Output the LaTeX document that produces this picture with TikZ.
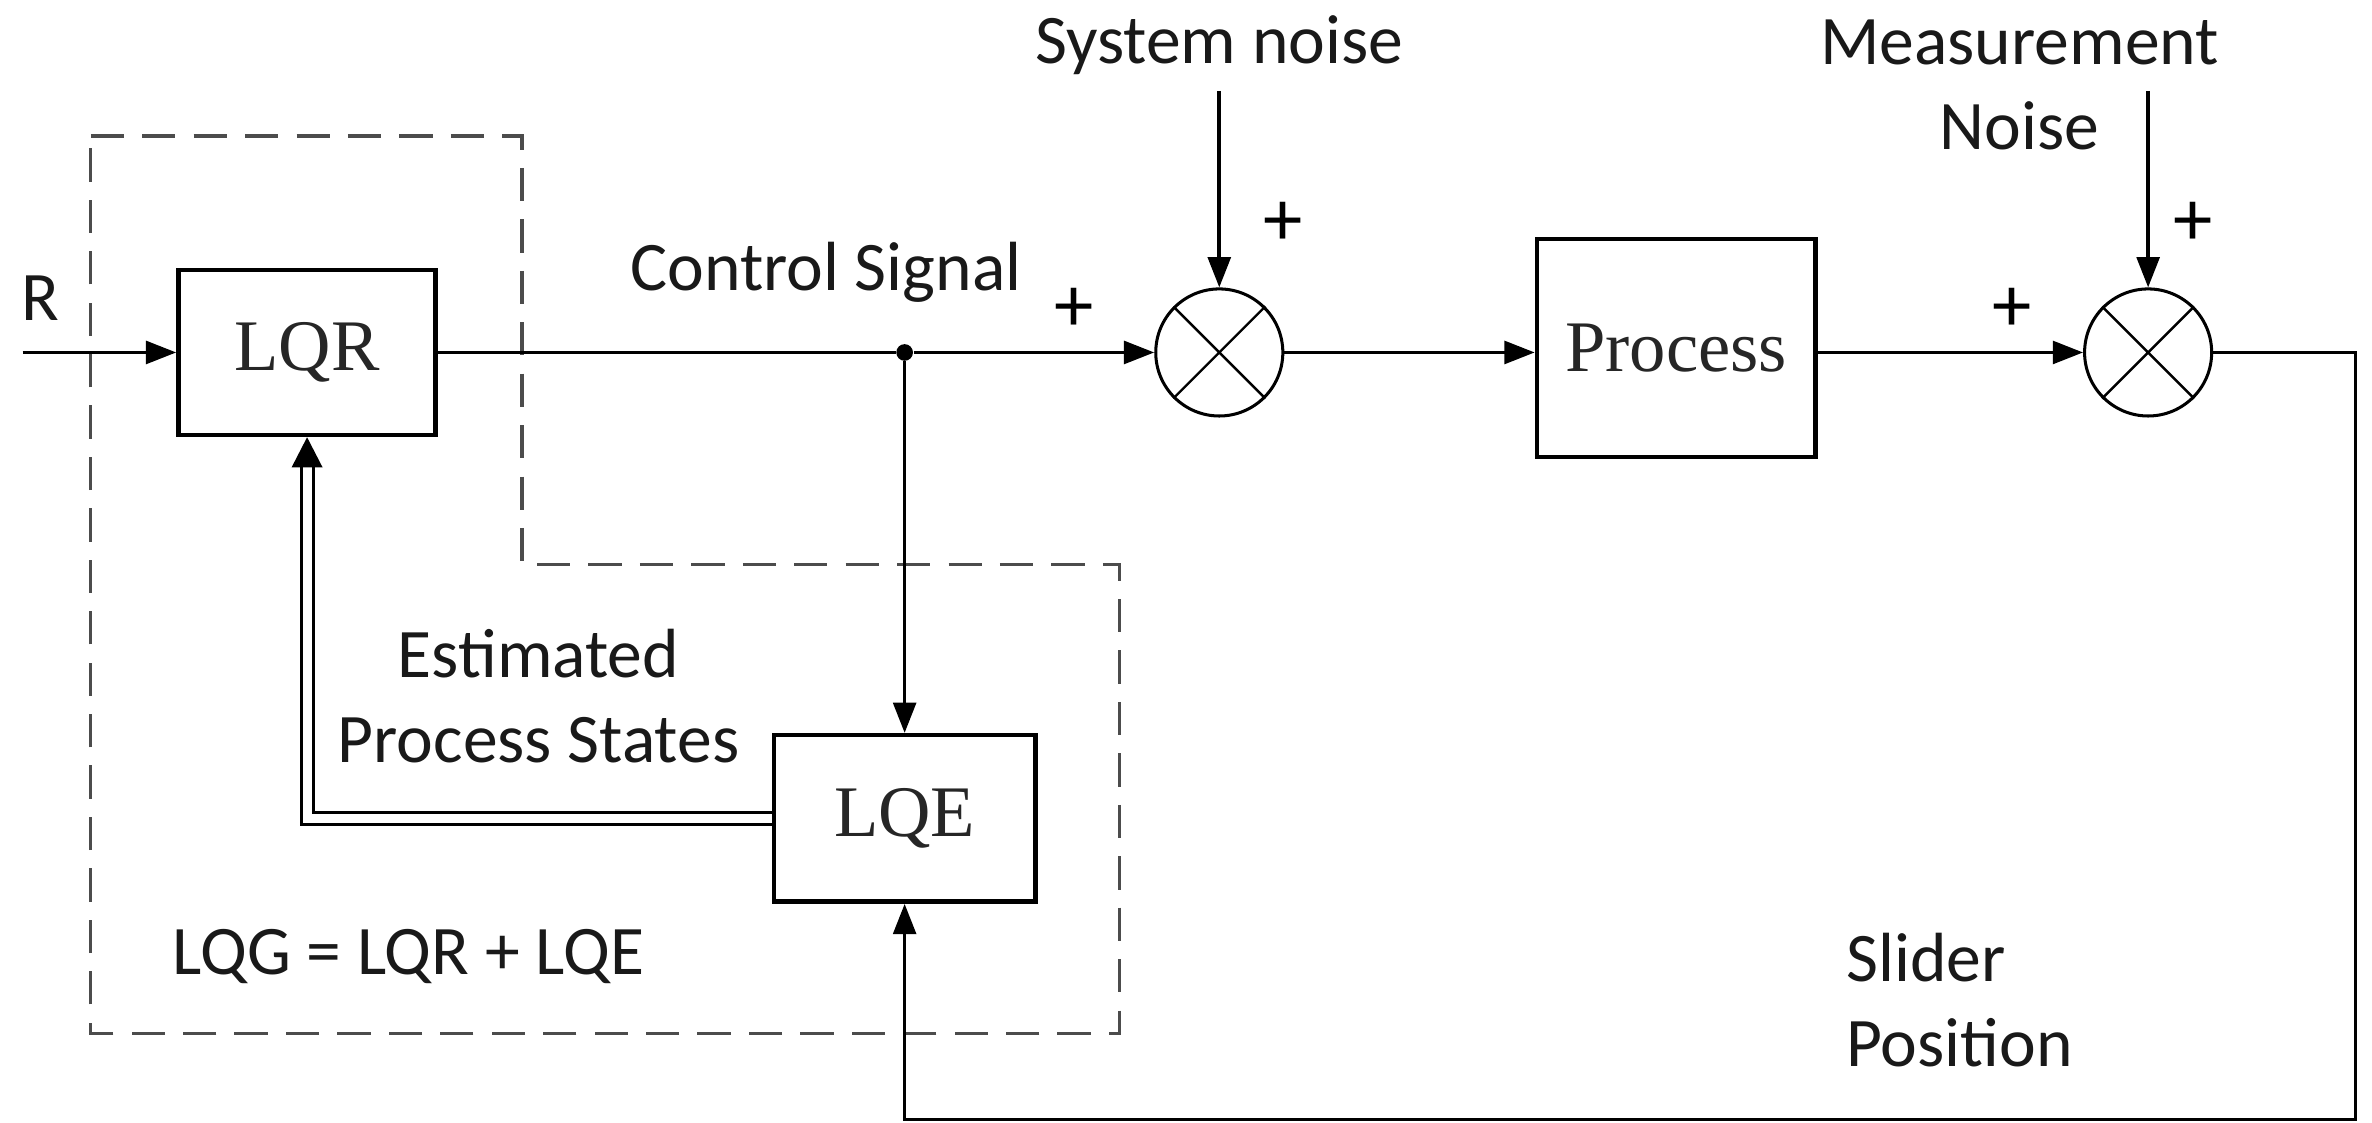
\documentclass[tikz,border=0pt]{standalone}
\usepackage{fontspec}
\setmainfont{Carlito}
\newfontfamily\serifblk{Liberation Serif}
\usetikzlibrary{arrows.meta}
\begin{document}
\begin{tikzpicture}[x=0.5pt,y=-0.5pt,
 lbl/.style={font=\fontsize{23}{28}\selectfont, inner sep=0pt, text=black!90},
 plus/.style={font=\fontsize{26}{28}\selectfont, inner sep=0pt},
 blk/.style={draw, line width=1.5pt, font=\serifblk\fontsize{24}{28}\selectfont, inner sep=0pt, text=black!85},
 sumj/.style={draw, circle, line width=1pt, minimum size=42pt, inner sep=0pt},
 arr/.style={line width=1.2pt, -{Triangle[length=10pt,width=7.5pt]}},
 ln/.style={line width=1.2pt},
 dashbox/.style={draw=black!70, line width=1.1pt, dash pattern=on 11pt off 6pt},
 dot/.style={circle, fill, inner sep=0pt, minimum size=5.5pt}]
\fill[white] (0,0) rectangle (1568,742);
\useasboundingbox (0,0) rectangle (1568,742);

% dashed LQG region
\draw[dashbox] (60,90) -- (345,90) -- (345,373) -- (740,373) -- (740,683) -- (60,683) -- cycle;

% blocks
\node[blk, minimum width=85pt, minimum height=54.5pt] (lqr) at (203,233) {LQR};
\node[blk, minimum width=92pt, minimum height=72pt] (proc) at (1108,230) {Process};
\node[blk, minimum width=86.5pt, minimum height=55pt] (lqe) at (598,541) {LQE};
\node[sumj] (s1) at (806,233) {};
\node[sumj] (s2) at (1420,233) {};
\draw[line width=0.8pt] (s1.45) -- (s1.225) (s1.135) -- (s1.-45);
\draw[line width=0.8pt] (s2.45) -- (s2.225) (s2.135) -- (s2.-45);
\node[dot] (j) at (598,233) {};

% coordinates
\coordinate (rin) at (15,233);
\coordinate (n1) at (806,60);
\coordinate (n2) at (1420,60);
\coordinate (o1) at (1557,233);
\coordinate (o2) at (1557,740);

% connectors
\draw[arr] (rin) -- (lqr.west);
\draw[ln] (lqr.east) -- (j);
\draw[arr] (j) -- (s1.west);
\draw[arr] (j) -- (lqe.north);
\draw[arr] (n1) -- (s1.north);
\draw[arr] (s1.east) -- (s1.east -| proc.west);
\draw[arr] (proc.east |- s2.west) -- (s2.west);
\draw[arr] (n2) -- (s2.north);
\draw[arr] (s2.east) -- (o1) -- (o2) -| (lqe.south);
\draw[line width=1pt, double, double distance=3pt, -{Triangle[length=10pt,width=10pt]}] (lqe.west) -| (lqr.south);

% labels
\node[lbl] (lr) at (27,197) {R};
\node[lbl] (lcs) at (546,180) {Control Signal};
\node[lbl] (lsn) at (806,30) {System noise};
\node[lbl, align=center] (lmn) at (1335,56) {Measurement\\Noise};
\node[lbl, align=center] (leps) at (356,460) {Estimated\\Process States};
\node[lbl] (llqg) at (270,632) {LQG = LQR + LQE};
\node[lbl, align=left, anchor=west] (lsp) at (1220,661) {Slider\\Position};
\node[plus] (p1) at (710,205) {+};
\node[plus] (p2) at (848,148) {+};
\node[plus] (p3) at (1330,205) {+};
\node[plus] (p4) at (1450,148) {+};
\end{tikzpicture}
\end{document}
